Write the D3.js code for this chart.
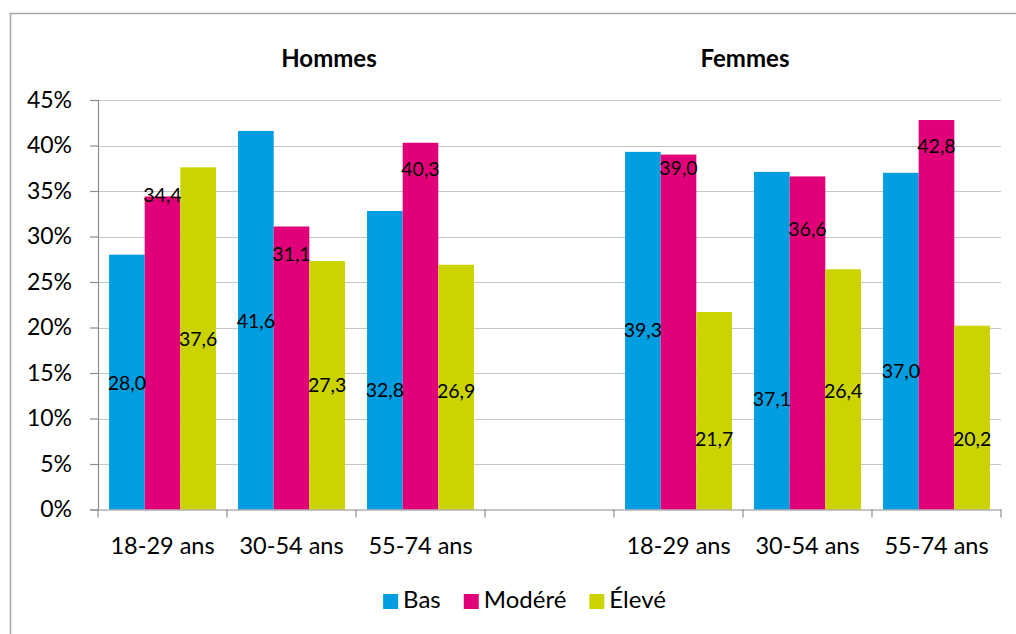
<!DOCTYPE html>
<html>
<head>
<meta charset="utf-8">
<script src="https://cdn.jsdelivr.net/npm/d3@7"></script>
<style>
  body { margin: 0; background: #fff; }
  text { font-family: Lato, "Open Sans", sans-serif; fill: #000; }
</style>
</head>
<body>
<div id="chart"></div>
<script>
// categories (the empty slot separates the two groups)
var categories = ["18-29 ans", "30-54 ans", "55-74 ans", "", "18-29 ans", "30-54 ans", "55-74 ans"];
var groups = ["Hommes", "Femmes"];
var seriesNames = ["Bas", "Modéré", "Élevé"];
var colors = ["#009ee0", "#e2007a", "#cbd300"];

// values in %, null for the empty slot
var bas    = [28.0, 41.6, 32.8, null, 39.3, 37.1, 37.0];
var modere = [34.4, 31.1, 40.3, null, 39.0, 36.6, 42.8];
var eleve  = [37.6, 27.3, 26.9, null, 21.7, 26.4, 20.2];

// where the data labels sit, in % units
var basLabelAt    = [13.9, 20.7, 13.1, null, 19.7, 12.1, 15.2];
var modereLabelAt = [34.6, 28.1, 37.4, null, 37.5, 30.8, 39.9];
var eleveLabelAt  = [18.7, 13.7, 13.0, null, 7.7, 13.0, 7.7];

var yTicks = [0, 5, 10, 15, 20, 25, 30, 35, 40, 45];

var width = 1016, height = 634;
var margin = {left: 98, right: 15, top: 100, bottom: 124.5};

var series = [bas, modere, eleve];
var labelAt = [basLabelAt, modereLabelAt, eleveLabelAt];

var svg = d3.select("#chart").append("svg")
    .attr("width", width)
    .attr("height", height);

// outer frame (cropped on the right and bottom)
svg.append("rect")
    .attr("x", 10.5).attr("y", 13.5)
    .attr("width", 1100).attr("height", 700)
    .attr("fill", "none")
    .attr("stroke", "#a6a6a6")
    .attr("stroke-width", 1.5);

var x0 = d3.scaleBand()
    .domain(d3.range(categories.length))
    .range([margin.left, width - margin.right])
    .padding(0);

var x1 = d3.scaleBand()
    .domain(d3.range(seriesNames.length))
    .range([0, x0.bandwidth()])
    .paddingInner(0)
    .paddingOuter(0.31);

var y = d3.scaleLinear()
    .domain([0, 45])
    .range([height - margin.bottom, margin.top]);

// gridlines
svg.append("g")
    .selectAll("line")
    .data(yTicks.slice(1))
    .enter().append("line")
    .attr("x1", margin.left).attr("x2", width - margin.right)
    .attr("y1", function(d) { return Math.round(y(d)) + 0.5; })
    .attr("y2", function(d) { return Math.round(y(d)) + 0.5; })
    .attr("stroke", "#c6c6c6")
    .attr("stroke-width", 1.2);

// bars
series.forEach(function(vals, s) {
    svg.append("g")
        .selectAll("rect")
        .data(vals.map(function(v, i) { return {v: v, i: i}; }).filter(function(d) { return d.v !== null; }))
        .enter().append("rect")
        .attr("x", function(d) { return x0(d.i) + x1(s); })
        .attr("y", function(d) { return y(d.v); })
        .attr("width", x1.bandwidth())
        .attr("height", function(d) { return y(0) - y(d.v); })
        .attr("fill", colors[s]);
});

// data labels
series.forEach(function(vals, s) {
    svg.append("g")
        .selectAll("text")
        .data(vals.map(function(v, i) { return {v: v, i: i, at: labelAt[s][i]}; }).filter(function(d) { return d.v !== null; }))
        .enter().append("text")
        .attr("x", function(d) { return x0(d.i) + x1(s) + x1.bandwidth() / 2; })
        .attr("y", function(d) { return y(d.at); })
        .attr("dy", "0.36em")
        .attr("text-anchor", "middle")
        .style("font-size", "19.5px")
        .text(function(d) { return d.v.toFixed(1).replace(".", ","); });
});

// y axis
var yAxis = svg.append("g")
    .attr("transform", "translate(" + margin.left + ",0)")
    .call(d3.axisLeft(y).tickValues(yTicks).tickSize(8).tickPadding(18)
        .tickFormat(function(d) { return d + "%"; }));
yAxis.select(".domain").attr("stroke", "#8c8c8c").attr("stroke-width", 1.2);
yAxis.selectAll(".tick line").attr("stroke", "#8c8c8c").attr("stroke-width", 1.2);
yAxis.selectAll(".tick text")
    .style("font-size", "23px")
    .attr("fill", "#000")
    .attr("font-family", null);

// x axis
var xAxis = svg.append("g")
    .attr("transform", "translate(0," + y(0) + ")")
    .call(d3.axisBottom(x0).tickSize(0).tickFormat(function(i) { return categories[i]; }));
xAxis.select(".domain").attr("stroke", "#8c8c8c").attr("stroke-width", 1.2);
xAxis.selectAll(".tick text")
    .attr("y", 44)
    .attr("dy", 0)
    .style("font-size", "23.5px")
    .attr("fill", "#000")
    .attr("font-family", null);
// category separators
xAxis.append("g")
    .selectAll("line")
    .data(d3.range(categories.length + 1))
    .enter().append("line")
    .attr("x1", function(i) { return margin.left + i * x0.step(); })
    .attr("x2", function(i) { return margin.left + i * x0.step(); })
    .attr("y1", 0).attr("y2", 8)
    .attr("stroke", "#8c8c8c")
    .attr("stroke-width", 1.2);

// group titles
var titleX = [329, 745];
svg.append("g")
    .selectAll("text")
    .data(groups)
    .enter().append("text")
    .attr("x", function(d, i) { return titleX[i]; })
    .attr("y", 67)
    .attr("text-anchor", "middle")
    .style("font-size", "24px")
    .style("font-weight", "bold")
    .text(function(d) { return d; });

// legend
var legend = svg.append("g");
var lx = 0;
seriesNames.forEach(function(name, s) {
    var item = legend.append("g").attr("transform", "translate(" + lx + ",0)");
    item.append("rect")
        .attr("x", 0).attr("y", -14)
        .attr("width", 15).attr("height", 15)
        .attr("fill", colors[s]);
    var t = item.append("text")
        .attr("x", 20).attr("y", 0)
        .style("font-size", "24px")
        .text(name);
    lx += 20 + t.node().getComputedTextLength() + 23;
});
lx -= 23;
legend.attr("transform", "translate(" + (524.5 - lx / 2) + ",608)");
</script>
</body>
</html>
